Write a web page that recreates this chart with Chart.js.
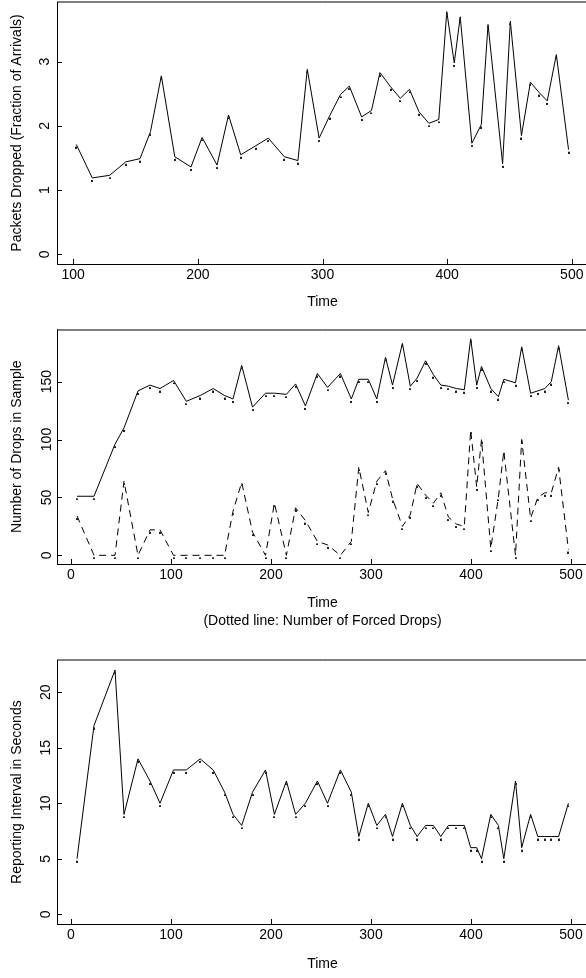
<!DOCTYPE html>
<html><head><meta charset="utf-8">
<script src="https://cdn.jsdelivr.net/npm/chart.js@4/dist/chart.umd.min.js"></script>
<style>
html,body{margin:0;padding:0;background:#fff;overflow:hidden;width:586px;height:978px;position:relative;}
canvas{position:absolute;left:0;}
</style></head><body>
<canvas id="c1" width="600" height="320" style="top:0px"></canvas>
<canvas id="c2" width="600" height="320" style="top:320px"></canvas>
<canvas id="c3" width="600" height="328" style="top:650px"></canvas>
<script>
// ---- data ----
const times = [6, 23, 44, 53, 67, 79, 89, 102.5, 115.3, 129.2, 142.2, 153.6, 162, 170.7, 181.5, 194.5,
  203.4, 215.4, 224.6, 234.4, 246.4, 256.5, 269.4, 280.3, 287.8, 297.3, 305.8, 314.5, 321.5, 331.4,
  339.3, 346.1, 354.6, 362.4, 369.8, 377.4, 385.4, 393.3, 399.7, 405.7, 410.5, 419.8, 427.4, 432.8,
  444.5, 450.7, 459.6, 466.8, 473.8, 480.3, 487.6, 497.4];
const packetsDropped = [1.71, 1.19, 1.23, 1.44, 1.49, 1.91, 2.78, 1.52, 1.36, 1.82, 1.39, 2.17, 1.55,
  1.69, 1.81, 1.52, 1.46, 2.88, 1.81, 2.16, 2.49, 2.62, 2.14, 2.24, 2.83, 2.61, 2.43, 2.57, 2.22,
  2.04, 2.10, 3.78, 2.98, 3.70, 1.73, 2.02, 3.58, 1.41, 3.63, 1.85, 2.68, 2.52, 2.39, 3.11, 1.63];
const dropsInSample = [51, 51, 96, 110, 142, 147, 144, 151, 133, 138, 144, 138, 135, 164, 128, 140,
  140, 139, 148, 129, 157, 145, 157, 135, 152, 152, 135, 171, 147, 183, 146, 153, 168, 156, 147, 146,
  144, 143, 187, 147, 163, 144, 137, 152, 149, 180, 140, 142, 144, 150, 181, 134];
const forcedDrops = [34, 0, 0, 64, 0, 22, 22, 0, 0, 0, 0, 0, 38, 63, 20, 0, 45, 0, 41, 30, 12, 9, 0,
  12, 76, 37, 64, 73, 49, 25, 35, 62, 52, 45, 54, 33, 27, 25, 108, 59, 100, 6, 50, 90, 0, 100, 32,
  50, 54, 54, 76, 5];
const reportInterval = [5, 17, 22, 9, 14, 12, 10, 13, 13, 14, 13, 11, 9, 8, 11, 13, 9, 12, 9, 10, 12,
  10, 13, 11, 7, 10, 8, 9, 7, 10, 8, 7, 8, 8, 7, 8, 8, 8, 6, 6, 5, 9, 8, 5, 12, 6, 9, 7, 7, 7, 7, 10];
const p1Times = times.slice(7);
const p1XTicks = [100, 200, 300, 400, 500];
const p1YTicks = [0, 1, 2, 3];
const xTicks = [0, 100, 200, 300, 400, 500];
const p2YTicks = [0, 50, 100, 150];
const p3YTicks = [0, 5, 10, 15, 20];

// ---- rendering ----
const FONT = "'Liberation Sans', Arial, Helvetica, sans-serif";
Chart.defaults.font.family = FONT;
Chart.defaults.color = '#000';

// dot marker drawn a little below each vertex (like a '.' character)
const dot = document.createElement('canvas');
dot.width = 2; dot.height = 8;
(function(){ const g = dot.getContext('2d'); g.fillStyle = '#222'; g.fillRect(0, 6, 2, 2); })();

const pts = (xs, ys) => ys.map((y, i) => ({x: xs[i], y}));

const frame = {
  id: 'frame',
  afterDraw(chart) {
    const ctx = chart.ctx, a = chart.chartArea;
    ctx.save();
    ctx.strokeStyle = '#000'; ctx.lineWidth = 1;
    // top border (soft)
    ctx.beginPath(); ctx.moveTo(a.left, Math.round(a.top)); ctx.lineTo(a.right, Math.round(a.top)); ctx.stroke();
    // inward tick marks
    const xs = chart.scales.x, ys = chart.scales.y;
    ctx.beginPath();
    xs.ticks.forEach(t => { const p = Math.round(xs.getPixelForValue(t.value)) + 0.5;
      ctx.moveTo(p, a.bottom); ctx.lineTo(p, a.bottom - 5); });
    ys.ticks.forEach(t => { const p = Math.round(ys.getPixelForValue(t.value)) + 0.5;
      ctx.moveTo(a.left, p); ctx.lineTo(a.left + 5, p); });
    ctx.stroke();
    ctx.restore();
  }
};

function makeChart(id, o) {
  new Chart(document.getElementById(id), {
    type: 'line',
    data: { datasets: o.datasets },
    options: {
      responsive: false, animation: false, events: [],
      layout: { padding: { left: 0, right: 12, top: o.padTop, bottom: 0 } },
      plugins: { legend: { display: false }, tooltip: { enabled: false } },
      scales: {
        x: {
          type: 'linear', min: o.xmin, max: o.xmax,
          grid: { display: false, drawTicks: false },
          border: { display: true, color: '#000', width: 1 },
          afterBuildTicks: s => { s.ticks = o.xticks.map(v => ({value: v})); },
          afterFit: s => { s.height = o.xh; s.paddingLeft = 0; s.paddingRight = 0; },
          ticks: { font: { size: 14 }, padding: 2.5, maxRotation: 0, minRotation: 0, autoSkip: false },
          title: { display: true, text: o.xtitle, font: { size: 14, lineHeight: o.xtitleLH || 1.2 },
                   padding: { top: 0, bottom: o.xtitlePad } }
        },
        y: {
          type: 'linear', min: o.ymin, max: o.ymax,
          grid: { display: false, drawTicks: false },
          border: { display: true, color: '#000', width: 1 },
          afterBuildTicks: s => { s.ticks = o.yticks.map(v => ({value: v})); },
          afterFit: s => { s.width = 57; s.paddingTop = 0; s.paddingBottom = 0; },
          ticks: { font: { size: 14 }, padding: o.ytickPad, minRotation: 90, maxRotation: 90,
                   crossAlign: 'center', autoSkip: false },
          title: { display: true, text: o.ytitle, font: { size: 14, lineHeight: 1.2 },
                   padding: { top: 8.8, bottom: 0 } }
        }
      }
    },
    plugins: [frame]
  });
}

const lineDs = (data, dash) => ({
  data, borderColor: '#000', borderWidth: 1, borderDash: dash || [], tension: 0, fill: false,
  pointStyle: dot, pointRadius: 1, pointHoverRadius: 1
});

makeChart('c1', {
  datasets: [lineDs(pts(p1Times, packetsDropped))],
  xmin: 87, xmax: 513, ymin: -0.151, ymax: 3.93, xticks: p1XTicks, yticks: p1YTicks,
  padTop: 0, xh: 56, xtitle: 'Time', xtitlePad: 9.6, ytickPad: 8,
  ytitle: 'Packets Dropped (Fraction of Arrivals)'
});
makeChart('c2', {
  datasets: [lineDs(pts(times, dropsInSample)), lineDs(pts(times, forcedDrops), [7, 5])],
  xmin: -14, xmax: 517, ymin: -7.5, ymax: 195, xticks: xTicks, yticks: p2YTicks,
  padTop: 9.5, xh: 76, xtitle: ['Time', '(Dotted line: Number of Forced Drops)'], xtitleLH: 18/14,
  xtitlePad: 10, ytickPad: -2, ytitle: 'Number of Drops in Sample'
});
makeChart('c3', {
  datasets: [lineDs(pts(times, reportInterval))],
  xmin: -14, xmax: 517, ymin: -0.88, ymax: 22.88, xticks: xTicks, yticks: p3YTicks,
  padTop: 10.3, xh: 54, xtitle: 'Time', xtitlePad: 5.1, ytickPad: 3,
  ytitle: 'Reporting Interval in Seconds'
});
</script>
</body></html>
